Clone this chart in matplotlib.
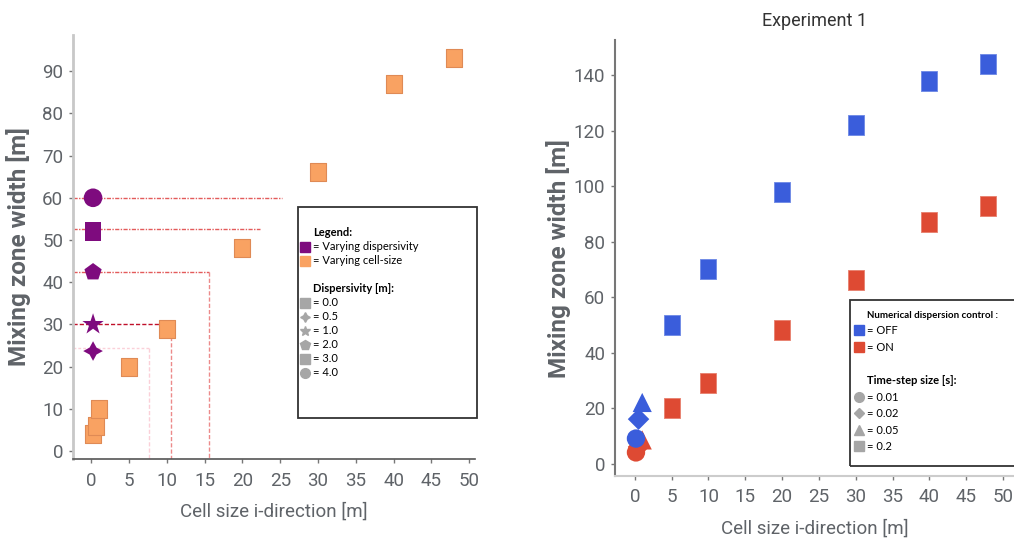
import matplotlib
matplotlib.use('Agg')
import matplotlib.pyplot as plt
from matplotlib.lines import Line2D
from matplotlib.patches import Rectangle
from matplotlib.font_manager import FontProperties

plt.rcParams['font.family'] = ['Roboto', 'DejaVu Sans']

# ---- left panel: varying cell size / varying dispersivity ----
cell_size = [0.3, 0.6, 1.1, 5, 10, 20, 30, 40, 48]
mzw_cell = [4, 6, 10, 20, 29, 48, 66, 87, 93]
disp_x = [0.25, 0.25, 0.25, 0.25, 0.25]
mzw_disp = [23.7, 30, 42.4, 52, 60]
disp_vals = ['0.0', '0.5', '1.0', '2.0', '3.0', '4.0']
# guide lines: y level and where they stop on x
guide_y = [60, 52.5, 42.5, 30, 24.4]
guide_x = [25.3, 22.3, 15.6, 10.6, 7.6]

# ---- right panel: Experiment 1 ----
exp_cells = [5, 10, 20, 30, 40, 48]
off_sq = [50, 70, 98, 122, 138, 144]
on_sq = [20, 29, 48, 66, 87, 93]
small_x = [0.15, 0.5, 1.0]
off_small = [9, 16, 22]
on_small = [4, 6, 8.5]
ts_vals = ['0.01', '0.02', '0.05', '0.2']

ORANGE = '#f9a262'
ORANGE_E = '#df8a55'
PURPLE = '#7e0b7e'
BLUE = '#3a5ddb'
RED = '#de4a33'
GRAY = '#a6a6a6'
TXT = '#5f6368'

# tall rectangle marker (squares in the picture are a bit stretched)
rect = [(-0.8, -1), (0.8, -1), (0.8, 1), (-0.8, 1), (-0.8, -1)]
star4 = (4, 1, 0)

legfont = FontProperties(family=['Lato', 'DejaVu Sans'], size=8)

fig = plt.figure(figsize=(10.14, 5.44), dpi=100)
ax1 = fig.add_axes([0.072, 0.156, 0.396, 0.780])
ax2 = fig.add_axes([0.6065, 0.125, 0.3935, 0.801])


def style_axes(ax, left_c, left_w, bot_c, bot_w):
    for s in ['top', 'right']:
        ax.spines[s].set_visible(False)
    ax.spines['left'].set_color(left_c)
    ax.spines['left'].set_linewidth(left_w)
    ax.spines['bottom'].set_color(bot_c)
    ax.spines['bottom'].set_linewidth(bot_w)
    ax.tick_params(colors='#777777', labelcolor=TXT, labelsize=13.5, length=3, width=1)
    ax.tick_params(axis='y', pad=4)
    ax.tick_params(axis='x', pad=6)


# ---------- left ----------
style_axes(ax1, '#c8c8c8', 2.0, '#555555', 1.2)

guide_col = ['#e35b5b', '#e35b5b', '#e35b5b', '#c0102a', '#fbd0d8']
guide_ls = [(0, (3, 1, 1, 1)), (0, (3, 1, 1, 1)), (0, (3, 1, 1, 1)), (0, (3, 1.5)), (0, (2, 1.5))]
vert_col = [None, None, '#ec8a8a', '#ec8a8a', '#fbd0d8']
for y, xe, c, ls, vc in zip(guide_y, guide_x, guide_col, guide_ls, vert_col):
    ax1.plot([-2.4, xe], [y, y], color=c, ls=ls, lw=1, zorder=1)
    if vc:
        ax1.plot([xe, xe], [y, -1.9], color=vc, ls=(0, (3, 1.5)), lw=1, zorder=1)

ax1.scatter(cell_size, mzw_cell, marker=rect, s=185, c=ORANGE, edgecolors=ORANGE_E,
            linewidths=0.8, zorder=3)
disp_markers = [star4, '*', 'p', rect, 'o']
disp_sizes = [200, 260, 170, 185, 180]
for x, y, m, s in zip(disp_x, mzw_disp, disp_markers, disp_sizes):
    ax1.scatter(x, y, marker=m, s=s, c=PURPLE, edgecolors='none', zorder=4)

ax1.set_xlim(-2.4, 50.7)
ax1.set_ylim(-1.9, 98.6)
ax1.set_xticks(range(0, 51, 5))
ax1.set_yticks(range(0, 91, 10))
ax1.set_xlabel('Cell size i-direction [m]', fontsize=13.5, color=TXT, labelpad=9)
ax1.set_ylabel('Mixing zone width [m]', fontsize=17.5, fontweight='bold', color=TXT, labelpad=8)

ax1.add_patch(Rectangle((0.560, 0.097), 0.447, 0.497, transform=ax1.transAxes,
                        fill=False, ec='#333333', lw=1.3, clip_on=False, zorder=5))
blank = Line2D([], [], ls='none')
h1 = [blank,
      Line2D([], [], ls='none', marker='s', color=PURPLE, ms=7),
      Line2D([], [], ls='none', marker='s', color=ORANGE, ms=7),
      blank, blank]
l1 = ['Legend:', '= Varying dispersivity', '= Varying cell-size', ' ', 'Dispersivity [m]:']
leg_markers = ['s', star4, '*', 'p', 's', 'o']
for m, v in zip(leg_markers, disp_vals):
    h1.append(Line2D([], [], ls='none', marker=m, color=GRAY, ms=7))
    l1.append('= ' + v)
leg1 = ax1.legend(h1, l1, loc='upper left', bbox_to_anchor=(0.565, 0.546), frameon=False,
                  prop=legfont, handlelength=0.9, handletextpad=0.3, labelspacing=0.27,
                  borderpad=0, borderaxespad=0)
for i in (0, 4):
    leg1.get_texts()[i].set_fontweight('bold')

# ---------- right ----------
style_axes(ax2, '#777777', 1.5, '#cccccc', 1.5)

ax2.scatter(exp_cells, off_sq, marker=rect, s=200, c=BLUE, edgecolors='#6d88e6', linewidths=0.6, zorder=3)
ax2.scatter(exp_cells, on_sq, marker=rect, s=200, c=RED, edgecolors='#e8806d', linewidths=0.6, zorder=3)
small_markers = ['o', 'D', '^']
small_sizes = [175, 120, 190]
for x, y, m, s in zip(small_x, on_small, small_markers, small_sizes):
    ax2.scatter(x, y, marker=m, s=s, c=RED, edgecolors='none', zorder=3)
for x, y, m, s in zip(small_x, off_small, small_markers, small_sizes):
    ax2.scatter(x, y, marker=m, s=s, c=BLUE, edgecolors='none', zorder=4)

ax2.set_xlim(-2.7, 51.5)
ax2.set_ylim(-4.5, 152.6)
ax2.set_xticks(range(0, 51, 5))
ax2.set_yticks(range(0, 141, 20))
ax2.set_xlabel('Cell size i-direction [m]', fontsize=13.5, color=TXT, labelpad=9)
ax2.set_ylabel('Mixing zone width [m]', fontsize=17.5, fontweight='bold', color=TXT, labelpad=2)
ax2.set_title('Experiment 1', fontsize=13, color='#333333', pad=10)

ax2.add_patch(Rectangle((0.589, 0.023), 0.5, 0.381, transform=ax2.transAxes,
                        fill=False, ec='#333333', lw=1.3, clip_on=False, zorder=5))
h2 = [blank,
      Line2D([], [], ls='none', marker='s', color=BLUE, ms=7),
      Line2D([], [], ls='none', marker='s', color=RED, ms=7),
      blank, blank]
l2 = ['Numerical dispersion control :', '= OFF', '= ON', ' ', 'Time-step size [s]:']
for m, v in zip(['o', 'D', '^', 's'], ts_vals):
    h2.append(Line2D([], [], ls='none', marker=m, color=GRAY, ms=7 if m != 'D' else 5.5))
    l2.append('= ' + v)
leg2 = ax2.legend(h2, l2, loc='upper left', bbox_to_anchor=(0.598, 0.381), frameon=False,
                  prop=legfont, handlelength=0.9, handletextpad=0.3, labelspacing=0.5,
                  borderpad=0, borderaxespad=0)
for i in (0, 4):
    leg2.get_texts()[i].set_fontweight('bold')
leg2.get_texts()[0].set_fontsize(7)

fig.savefig('out.png', dpi=100)
